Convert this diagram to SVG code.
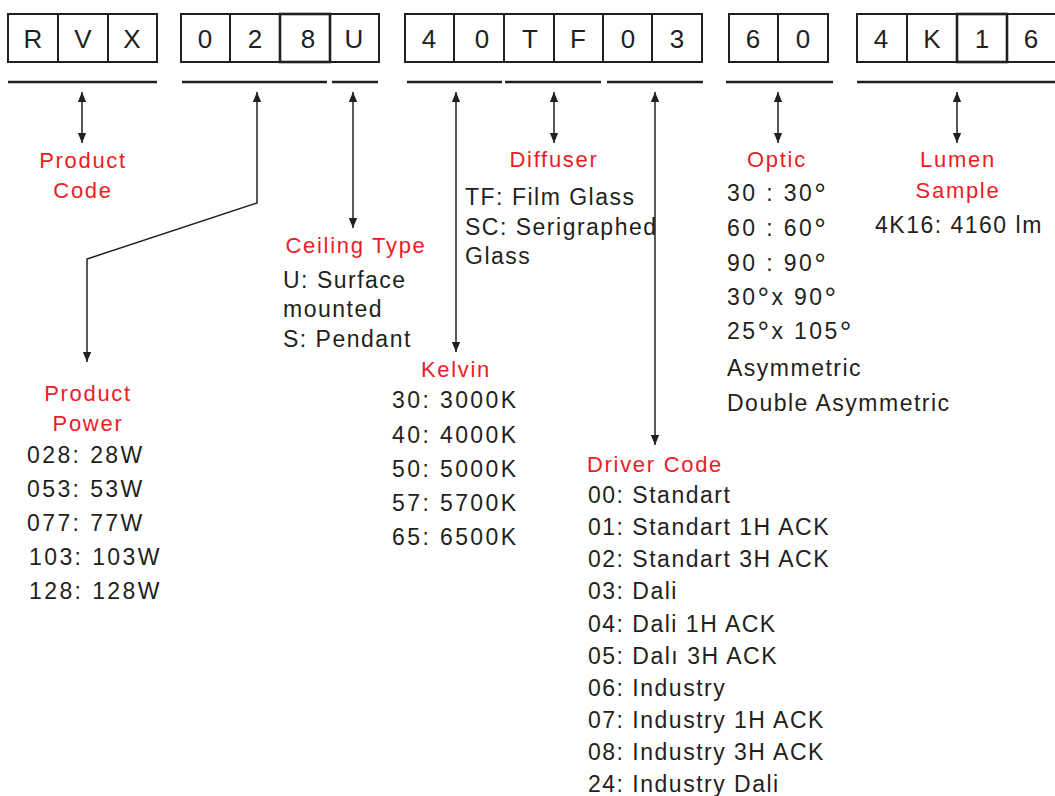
<svg xmlns="http://www.w3.org/2000/svg" width="1055" height="796" viewBox="0 0 1055 796">
<style>
.cell{fill:#fff;stroke:#231f20;stroke-width:2}
.cell.bold{stroke-width:2.6}
.ch{font-family:"Liberation Sans",Arial,sans-serif;font-size:26px;fill:#231f20;text-anchor:middle}
.ul{stroke:#231f20;stroke-width:2.5}
.h{font-family:"Liberation Sans",Arial,sans-serif;font-size:22px;fill:#ed1c24;letter-spacing:1.7px;text-anchor:middle}
.t{font-family:"Liberation Sans",Arial,sans-serif;font-size:23px;fill:#231f20;letter-spacing:1.5px}
.n{letter-spacing:2.4px}
.deg{font-size:29px}
.c{fill:none;stroke:#231f20;stroke-width:1.5}
</style>
<defs>
<marker id="ah" markerUnits="userSpaceOnUse" markerWidth="10" markerHeight="14" refX="12" refY="5" viewBox="0 0 12 10" orient="auto-start-reverse">
<path d="M0,0 L12,5 L0,10 Z" fill="#231f20"/>
</marker>
</defs>
<rect width="1055" height="796" fill="#fff"/>

<g id="code">
<g id="g-rvx">
<rect class="cell" x="8" y="14" width="50" height="48"/>
<rect class="cell" x="58" y="14" width="50" height="48"/>
<rect class="cell" x="108" y="14" width="49" height="48"/>
<text class="ch" x="33" y="48">R</text>
<text class="ch" x="83" y="48">V</text>
<text class="ch" x="132" y="48">X</text>
</g>
<g id="g-028u">
<rect class="cell" x="181" y="14" width="49" height="48"/>
<rect class="cell" x="230" y="14" width="50" height="48"/>
<rect class="cell" x="330" y="14" width="49" height="48"/>
<rect class="cell bold" x="280" y="14" width="50" height="48"/>
<text class="ch" x="205" y="48">0</text>
<text class="ch" x="255" y="48">2</text>
<text class="ch" x="308" y="48">8</text>
<text class="ch" x="354" y="48">U</text>
</g>
<g id="g-40tf03">
<rect class="cell" x="405" y="14" width="49" height="48"/>
<rect class="cell" x="454" y="14" width="50" height="48"/>
<rect class="cell" x="504" y="14" width="50" height="48"/>
<rect class="cell" x="554" y="14" width="49" height="48"/>
<rect class="cell" x="603" y="14" width="49" height="48"/>
<rect class="cell" x="652" y="14" width="50" height="48"/>
<text class="ch" x="429" y="48">4</text>
<text class="ch" x="482" y="48">0</text>
<text class="ch" x="530" y="48">T</text>
<text class="ch" x="578" y="48">F</text>
<text class="ch" x="628" y="48">0</text>
<text class="ch" x="677" y="48">3</text>
</g>
<g id="g-60">
<rect class="cell" x="729" y="14" width="49" height="48"/>
<rect class="cell" x="778" y="14" width="50" height="48"/>
<text class="ch" x="753" y="48">6</text>
<text class="ch" x="803" y="48">0</text>
</g>
<g id="g-4k16">
<rect class="cell" x="857" y="14" width="50" height="48"/>
<rect class="cell" x="907" y="14" width="50" height="48"/>
<rect class="cell" x="1007" y="14" width="50" height="48"/>
<rect class="cell bold" x="957" y="14" width="50" height="48"/>
<text class="ch" x="881" y="48">4</text>
<text class="ch" x="932" y="48">K</text>
<text class="ch" x="982" y="48">1</text>
<text class="ch" x="1031" y="48">6</text>
</g>
</g>

<g id="underlines">
<line class="ul" x1="8" y1="82" x2="157" y2="82"/>
<line class="ul" x1="182" y1="82" x2="327" y2="82"/>
<line class="ul" x1="332" y1="82" x2="378" y2="82"/>
<line class="ul" x1="407" y1="82" x2="502" y2="82"/>
<line class="ul" x1="505" y1="82" x2="601" y2="82"/>
<line class="ul" x1="607" y1="82" x2="703" y2="82"/>
<line class="ul" x1="726" y1="82" x2="833" y2="82"/>
<line class="ul" x1="857" y1="82" x2="1055" y2="82"/>
</g>

<g id="connectors">
<line class="c" x1="82" y1="92" x2="82" y2="143" marker-start="url(#ah)" marker-end="url(#ah)"/>
<polyline class="c" points="257,92 257,203 87,259 87,362" marker-start="url(#ah)" marker-end="url(#ah)"/>
<line class="c" x1="353" y1="92" x2="353" y2="228" marker-start="url(#ah)" marker-end="url(#ah)"/>
<line class="c" x1="456" y1="92" x2="456" y2="352" marker-start="url(#ah)" marker-end="url(#ah)"/>
<line class="c" x1="554" y1="92" x2="554" y2="143" marker-start="url(#ah)" marker-end="url(#ah)"/>
<line class="c" x1="655" y1="92" x2="655" y2="445" marker-start="url(#ah)" marker-end="url(#ah)"/>
<line class="c" x1="778" y1="92" x2="778" y2="143" marker-start="url(#ah)" marker-end="url(#ah)"/>
<line class="c" x1="957" y1="92" x2="957" y2="143" marker-start="url(#ah)" marker-end="url(#ah)"/>
</g>

<g id="product-code">
<text class="h" x="83" y="168">Product</text>
<text class="h" x="83" y="198">Code</text>
</g>

<g id="product-power">
<text class="h" x="88" y="401">Product</text>
<text class="h" x="88" y="431">Power</text>
<text class="t n" x="27" y="463">028: 28W</text>
<text class="t n" x="27" y="497">053: 53W</text>
<text class="t n" x="27" y="531">077: 77W</text>
<text class="t n" x="29" y="565">103: 103W</text>
<text class="t n" x="29" y="599">128: 128W</text>
</g>

<g id="ceiling-type">
<text class="h" x="356" y="253">Ceiling Type</text>
<text class="t" x="283" y="288">U: Surface</text>
<text class="t" x="283" y="317">mounted</text>
<text class="t" x="283" y="347">S: Pendant</text>
</g>

<g id="kelvin">
<text class="h" x="456" y="377">Kelvin</text>
<text class="t n" x="392" y="408">30: 3000K</text>
<text class="t n" x="392" y="443">40: 4000K</text>
<text class="t n" x="392" y="477">50: 5000K</text>
<text class="t n" x="392" y="511">57: 5700K</text>
<text class="t n" x="392" y="545">65: 6500K</text>
</g>

<g id="diffuser">
<text class="h" x="554" y="167">Diffuser</text>
<text class="t" x="465" y="205">TF: Film Glass</text>
<text class="t" x="465" y="235">SC: Serigraphed</text>
<text class="t" x="465" y="264">Glass</text>
</g>

<g id="driver-code">
<text class="h" x="655" y="472">Driver Code</text>
<text class="t" x="588" y="503">00: Standart</text>
<text class="t" x="588" y="535">01: Standart 1H ACK</text>
<text class="t" x="588" y="567">02: Standart 3H ACK</text>
<text class="t" x="588" y="599">03: Dali</text>
<text class="t" x="588" y="632">04: Dali 1H ACK</text>
<text class="t" x="588" y="664">05: Dalı 3H ACK</text>
<text class="t" x="588" y="696">06: Industry</text>
<text class="t" x="588" y="728">07: Industry 1H ACK</text>
<text class="t" x="588" y="760">08: Industry 3H ACK</text>
<text class="t" x="588" y="792">24: Industry Dali</text>
</g>

<g id="optic">
<text class="h" x="777" y="167">Optic</text>
<text class="t n" x="727" y="201">30 : 30<tspan class="deg" dy="3">°</tspan></text>
<text class="t n" x="727" y="236">60 : 60<tspan class="deg" dy="3">°</tspan></text>
<text class="t n" x="727" y="271">90 : 90<tspan class="deg" dy="3">°</tspan></text>
<text class="t n" x="727" y="305">30<tspan class="deg" dy="3">°</tspan><tspan dy="-3">x 90</tspan><tspan class="deg" dy="3">°</tspan></text>
<text class="t n" x="727" y="339">25<tspan class="deg" dy="3">°</tspan><tspan dy="-3">x 105</tspan><tspan class="deg" dy="3">°</tspan></text>
<text class="t" x="727" y="376">Asymmetric</text>
<text class="t" x="727" y="411">Double Asymmetric</text>
</g>

<g id="lumen-sample">
<text class="h" x="958" y="167">Lumen</text>
<text class="h" x="958" y="198">Sample</text>
<text class="t" x="875" y="233">4K16: 4160 lm</text>
</g>
</svg>
